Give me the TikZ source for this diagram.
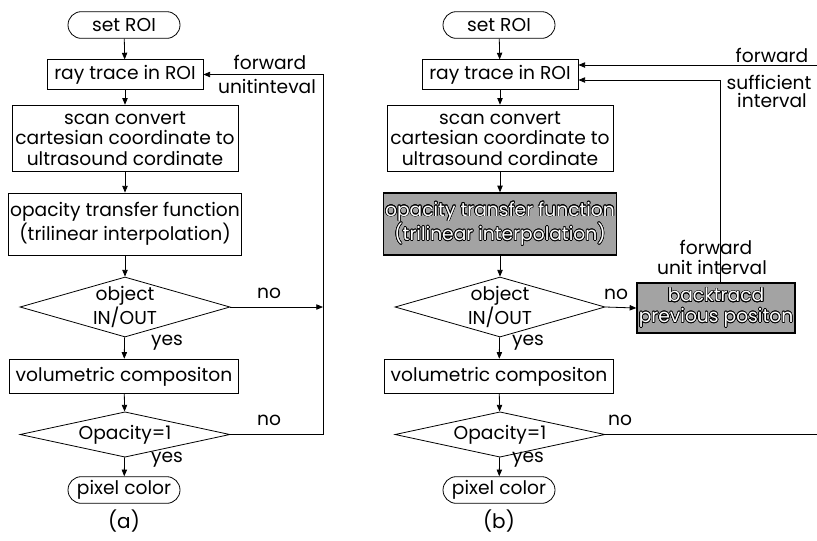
\documentclass[tikz,border=0pt]{standalone}
\usepackage{fontspec}
\setmainfont{Poppins}
\usepackage{contour}
\contourlength{0.5pt}
\usetikzlibrary{arrows.meta,shapes.geometric}

\newcommand{\outl}[1]{\textcolor{white}{\contour{black}{#1}}}

\begin{document}
\begin{tikzpicture}[
    >={Triangle[length=5pt,width=4pt]},
    x=0.75pt, y=-0.75pt,
    box/.style={draw,line width=0.6pt,inner sep=1pt,align=center,fill=white,
                font=\fontsize{14}{15.5}\selectfont},
    term/.style={box,rounded corners=10pt,minimum width=84pt,minimum height=20pt},
    raybox/.style={box,minimum width=117pt,minimum height=22pt},
    proc/.style={box,minimum width=169.5pt,minimum height=50pt},
    opac/.style={box,minimum width=169.5pt,minimum height=46.5pt},
    shade/.style={box,fill=black!36,line width=1pt},
    volbox/.style={box,minimum width=172pt,minimum height=26pt},
    decide/.style={box,diamond,inner sep=0pt,minimum width=157.5pt},
    lbl/.style={inner sep=1pt,font=\fontsize{14}{15.5}\selectfont},
    subcap/.style={inner sep=1pt,font=\fontsize{15}{17}\selectfont},
    flow/.style={->,line width=0.6pt},
    wire/.style={line width=0.6pt},
  ]
  \useasboundingbox (0,0) rectangle (817,540);

  % --- (a) plain ray casting ---
  \node[term]   (setA)  at (124,25)    {set ROI};
  \node[raybox] (rayA)  at (125,74.5)  {ray trace in ROI};
  \node[proc]   (scanA) at (125,138.5) {scan convert\\cartesian coordinate to\\ultrasound cordinate};
  \node[opac]   (opacA) at (125,224)   {opacity transfer function\\(trilinear interpolation)};
  \node[decide,minimum height=45pt,aspect=3.5] (objA) at (125,307) {object\\IN/OUT};
  \node[volbox] (volA)  at (124,376.5) {volumetric compositon};
  \node[decide,minimum height=34pt,aspect=4.7] (opA) at (125,434.5) {Opacity=1};
  \node[term]   (pixA)  at (124,490)   {pixel color};
  \node[subcap] (capA)  at (124,521)   {(a)};

  \node[lbl] (fwdA)  at (270,62)  {forward};
  \node[lbl] (unitA) at (267,86)  {unitinteval};
  \node[lbl] (noA1)  at (269,293) {no};
  \node[lbl] (noA2)  at (269,420) {no};
  \node[lbl] (yesA1) at (167,343) {yes};
  \node[lbl] (yesA2) at (167,460) {yes};

  \coordinate (joinA) at (323,307);
  \coordinate (cornA) at (323,434.5);

  \foreach \a/\b in {setA/rayA,rayA/scanA,scanA/opacA,opacA/objA,objA/volA,volA/opA,opA/pixA}
    { \draw[flow] (\a) -- (\b); }
  \draw[flow] (objA.east) -- (joinA);
  \draw[flow] (opA.east) -- (cornA) |- (rayA.east);

  % --- (b) with backtracking ---
  \node[term]   (setB)  at (499,25)    {set ROI};
  \node[raybox] (rayB)  at (500,74.5)  {ray trace in ROI};
  \node[proc]   (scanB) at (500,138.5) {scan convert\\cartesian coordinate to\\ultrasound cordinate};
  \node[opac,shade] (opacB) at (500,224)
        {\outl{opacity transfer function}\\\outl{(trilinear interpolation)}};
  \node[decide,minimum height=45pt,aspect=3.5] (objB) at (500,307) {object\\IN/OUT};
  \node[volbox] (volB)  at (499,376.5) {volumetric compositon};
  \node[decide,minimum height=34pt,aspect=4.7] (opB) at (500,434.5) {Opacity=1};
  \node[term]   (pixB)  at (499,490)   {pixel color};
  \node[subcap] (capB)  at (499,521)   {(b)};
  \node[box,shade,minimum width=118.5pt,minimum height=37.5pt] (backB) at (716,308)
        {\outl{backtracd}\\\outl{previous positon}};

  \node[lbl] (fwdB1) at (772,55)  {forward};
  \node[lbl] (sufB)  at (769,82)  {sufficient};
  \node[lbl] (intB)  at (772,100) {interval};
  \node[lbl] (noB1)  at (616,294) {no};
  \node[lbl] (noB2)  at (620,420) {no};
  \node[lbl] (yesB1) at (528,343) {yes};
  \node[lbl] (yesB2) at (528,460) {yes};

  \coordinate (topB)  at (817,65);
  \coordinate (riseB) at (720,80);
  \coordinate (edgeB) at (817,434.5);

  \foreach \a/\b in {setB/rayB,rayB/scanB,scanB/opacB,opacB/objB,objB/volB,volB/opB,opB/pixB}
    { \draw[flow] (\a) -- (\b); }
  \draw[flow] (objB.east) -- (backB.west);
  \draw[wire] (opB.east) -- (edgeB);
  \draw[flow] (topB) -- (topB -| rayB.east);
  \draw[flow] (backB.north -| riseB) -- (riseB) -- (riseB -| rayB.east);

  % labels on the backtrack riser sit over the line
  \node[lbl] (fwdB2) at (716,247) {forward};
  \node[lbl] (unitB) at (712,267) {unit interval};

\end{tikzpicture}
\end{document}
